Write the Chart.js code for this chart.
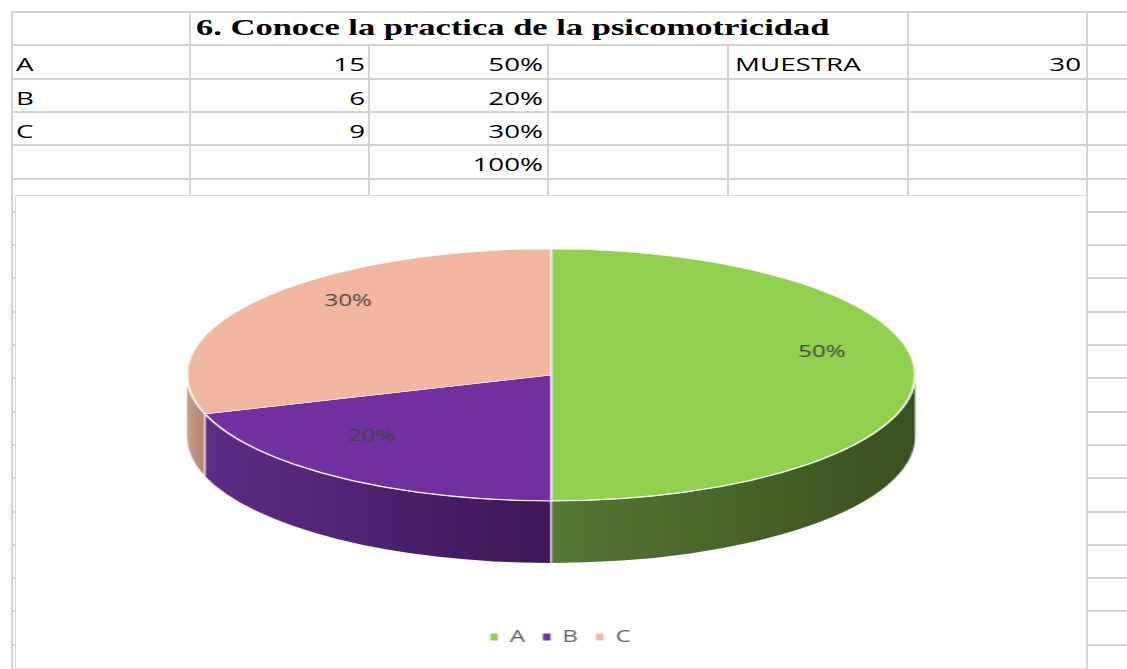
<!DOCTYPE html>
<html>
<head>
<meta charset="utf-8">
<script src="https://cdn.jsdelivr.net/npm/chart.js@4.4.1/dist/chart.umd.min.js"></script>
<style>
  html, body { margin: 0; padding: 0; background: #fff; }
  body { width: 1127px; height: 669px; position: relative; overflow: hidden; font-family: 'Open Sans', sans-serif; }
  .gl { position: absolute; background: #d4d4d4; }
  .txt { position: absolute; font-size: 18.5px; line-height: 20px; height: 20px; white-space: nowrap; color: #000; transform: scaleX(1.5); }
  .left { transform-origin: left center; text-align: left; }
  .right { transform-origin: right center; text-align: right; width: 300px; }
  .title { font-family: 'Liberation Serif', 'Times New Roman', serif; font-weight: bold; font-size: 23px; line-height: 26px; height: 26px; }
  #chartBox { position: absolute; left: 15px; top: 195px; width: 1070px; height: 472px; border: 1px solid #d9d9d9; background: #fff; overflow: hidden; }
  #stretch { position: absolute; left: 0; top: 0; width: 713px; height: 472px; transform: scaleX(1.5); transform-origin: 0 0; }
  #stretch canvas { display: block; }
</style>
</head>
<body>
<div id="grid"></div>
<div id="cells"></div>
<div id="chartBox"><div id="stretch"><canvas id="pieChart" width="713" height="472"></canvas></div></div>
<script>
// the screenshot is stretched sideways, so text and chart are drawn narrow and scaled by S
const S = 1.5;

// --- data ---
const title = '6. Conoce la practica de la psicomotricidad';
const categories = ['A', 'B', 'C'];
const counts = [15, 6, 9];
const sampleLabel = 'MUESTRA';
const sampleSize = 30;

const sliceColors = ['#92d050', '#7030a0', '#f2b7a0'];
const wallLight = ['#557834', '#5d2c86', '#caa08c'];
const wallDark = ['#394f1f', '#3d1756', '#ad8270'];

// --- spreadsheet grid ---
const colX = [12, 190, 369, 548, 728, 908, 1087];
const ROW_TOP = 12, ROW_H = 33.3;
const grid = document.getElementById('grid');
const cells = document.getElementById('cells');

function line(x, y, w, h) {
    const d = document.createElement('div');
    d.className = 'gl';
    d.style.cssText = `left:${x}px;top:${y}px;width:${w}px;height:${h}px`;
    grid.appendChild(d);
}
for (let k = 0; k < 20; k++) {
    line(12, ROW_TOP + k * ROW_H - 1, 1127 - 12, 2);
}
colX.forEach((x, i) => {
    const top = (i >= 2 && i <= 4) ? ROW_TOP + ROW_H : ROW_TOP;
    line(x - 1, top - 1, 2, 669 - top + 1);
});

function cellText(str, x, baseline, align, extra) {
    const d = document.createElement('div');
    d.className = 'txt ' + align + (extra ? ' ' + extra : '');
    d.textContent = str;
    const off = extra === 'title' ? 20.8 : 17.2;
    d.style.top = (baseline - off) + 'px';
    d.style.left = (align === 'right' ? x - 300 : x) + 'px';
    cells.appendChild(d);
}
const rowBase = k => ROW_TOP + (k + 1) * ROW_H - 7;

cellText(title, 196, 36, 'left', 'title');
const total = counts.reduce((a, b) => a + b, 0);
categories.forEach((c, i) => {
    cellText(c, 16, rowBase(i + 1), 'left');
    cellText(String(counts[i]), colX[2] - 4, rowBase(i + 1), 'right');
    cellText(Math.round(counts[i] / sampleSize * 100) + '%', colX[3] - 5, rowBase(i + 1), 'right');
});
cellText(Math.round(total / sampleSize * 100) + '%', colX[3] - 5, rowBase(4), 'right');
cellText(sampleLabel, 735, rowBase(1), 'left');
cellText(String(sampleSize), colX[6] - 6, rowBase(1), 'right');

// --- 3D pie geometry (canvas units, before the sideways stretch) ---
const PIE_CX = 356.7, PIE_CY = 179;
const RX = 364 / S, RY = 126, DEPTH = 62;
// label placement follows the perspective of the original picture
const HUB_LIFT = 23, PROJ_X = 357.9 / S, PROJ_Y = 121.8, PERSP = -0.1825, LABEL_R = 0.757;

function wallPath(ctx, a, b) {
    ctx.beginPath();
    ctx.ellipse(PIE_CX, PIE_CY, RX, RY, 0, a, b, false);
    ctx.lineTo(PIE_CX + RX * Math.cos(b), PIE_CY + DEPTH + RY * Math.sin(b));
    ctx.ellipse(PIE_CX, PIE_CY + DEPTH, RX, RY, 0, b, a, true);
    ctx.closePath();
}

const pie3d = {
    id: 'pie3d',
    beforeDatasetsDraw(chart) {
        const ctx = chart.ctx;
        const meta = chart.getDatasetMeta(0);
        const first = meta.data[0];

        // side walls, only the front half shows
        ctx.save();
        meta.data.forEach((arc, i) => {
            [-2 * Math.PI, 0, 2 * Math.PI].forEach(shift => {
                const a = Math.max(arc.startAngle + shift, 0);
                const b = Math.min(arc.endAngle + shift, Math.PI);
                if (b <= a) return;
                const xr = PIE_CX + RX * Math.cos(a), xl = PIE_CX + RX * Math.cos(b);
                const g = ctx.createLinearGradient(xl, 0, xr, 0);
                g.addColorStop(0, wallLight[i]);
                g.addColorStop(1, wallDark[i]);
                wallPath(ctx, a, b);
                ctx.fillStyle = g;
                ctx.fill();
            });
        });
        // white seams between walls
        ctx.strokeStyle = 'rgba(255,255,255,0.9)';
        ctx.lineWidth = 1.1;
        meta.data.forEach(arc => {
            let t = arc.startAngle;
            while (t < 0) t += 2 * Math.PI;
            while (t >= 2 * Math.PI) t -= 2 * Math.PI;
            if (t > 0.001 && t < Math.PI - 0.001) {
                const x = PIE_CX + RX * Math.cos(t), y = PIE_CY + RY * Math.sin(t);
                ctx.beginPath();
                ctx.moveTo(x, y);
                ctx.lineTo(x, y + DEPTH);
                ctx.stroke();
            }
        });
        ctx.restore();

        // squash the library's circle into the tilted top face
        ctx.save();
        ctx.translate(PIE_CX, PIE_CY);
        ctx.scale(RX / first.outerRadius, RY / first.outerRadius);
        ctx.translate(-first.x, -first.y);
    },
    afterDatasetsDraw(chart) {
        const ctx = chart.ctx;
        ctx.restore();
        const meta = chart.getDatasetMeta(0);
        const data = chart.data.datasets[0].data;
        const sum = data.reduce((a, b) => a + b, 0);

        // light rim along the front edge
        ctx.save();
        ctx.strokeStyle = 'rgba(255,255,255,0.85)';
        ctx.lineWidth = 1.2;
        ctx.beginPath();
        ctx.ellipse(PIE_CX, PIE_CY, RX, RY, 0, 0, Math.PI, false);
        ctx.stroke();

        // percentage labels
        ctx.fillStyle = '#404040';
        ctx.font = '16px "Open Sans", sans-serif';
        ctx.textAlign = 'center';
        ctx.textBaseline = 'middle';
        meta.data.forEach((arc, i) => {
            const mid = (arc.startAngle + arc.endAngle) / 2;
            const u = LABEL_R * Math.cos(mid), v = LABEL_R * Math.sin(mid);
            const d = 1 + PERSP * v;
            const x = PIE_CX + PROJ_X * u / d;
            const y = PIE_CY - HUB_LIFT + PROJ_Y * v / d;
            ctx.fillText(Math.round(data[i] / sum * 100) + '%', x, y);
        });
        ctx.restore();
    }
};

const ctx = document.getElementById('pieChart').getContext('2d');
new Chart(ctx, {
    type: 'pie',
    data: {
        labels: categories,
        datasets: [{
            data: counts,
            backgroundColor: sliceColors,
            borderColor: 'rgba(255,255,255,0.9)',
            borderWidth: 1,
            clip: false
        }]
    },
    options: {
        responsive: false,
        animation: false,
        events: [],
        layout: { padding: { left: 13, bottom: 13 } },
        plugins: {
            tooltip: { enabled: false },
            legend: {
                display: true,
                position: 'bottom',
                labels: {
                    boxWidth: 5,
                    boxHeight: 7,
                    padding: 12,
                    color: '#595959',
                    font: { family: "'Open Sans', sans-serif", size: 16 },
                    generateLabels: function (chart) {
                        const items = Chart.overrides.doughnut.plugins.legend.labels.generateLabels(chart);
                        items.forEach(it => { it.lineWidth = 0; it.strokeStyle = 'rgba(0,0,0,0)'; });
                        return items;
                    }
                }
            }
        }
    },
    plugins: [pie3d]
});
</script>
</body>
</html>
